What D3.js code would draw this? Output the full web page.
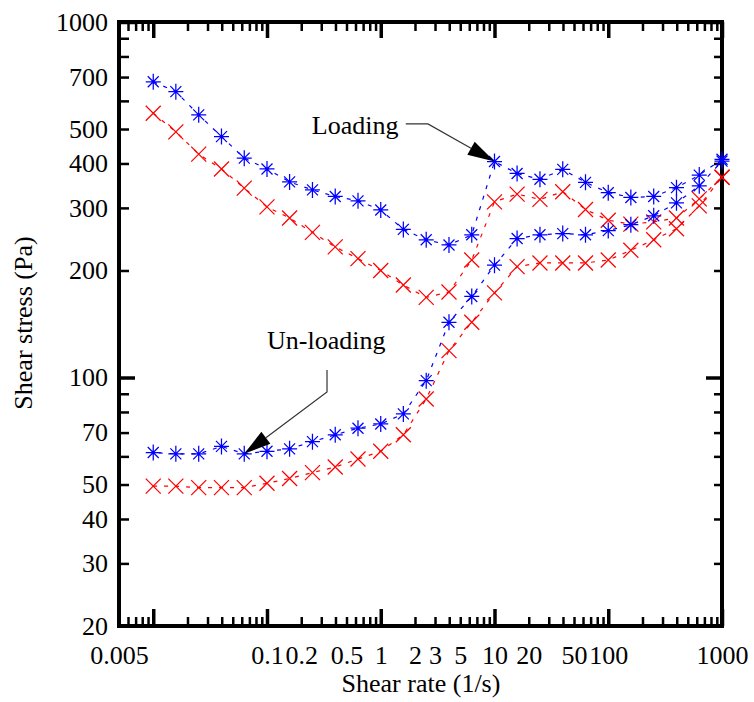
<!DOCTYPE html>
<html>
<head>
<meta charset="utf-8">
<script src="https://d3js.org/d3.v7.min.js"></script>
<style>
  body { margin: 0; background: #fff; }
  svg text { font-family: "Liberation Serif", "Times New Roman", serif; fill: #000; }
</style>
</head>
<body>
<script>
// shear rate points (1/s), 5 per decade
var rates = [0.01, 0.0158, 0.0251, 0.0398, 0.0631, 0.1, 0.158, 0.251, 0.398, 0.631,
             1, 1.58, 2.51, 3.98, 6.31, 10, 15.8, 25.1, 39.8, 63.1,
             100, 158, 251, 398, 631, 1000]

// shear stress (Pa), blue run
var blueLoad   = [679, 637, 548, 476, 414, 386, 355, 337, 323, 314, 296, 261, 244, 236, 252, 405, 375, 361, 385, 354, 331, 321, 323, 342, 371, 411]
var blueUnload = [61.5, 61, 61, 64, 61, 62, 63, 66, 69, 72, 74, 79, 98, 143, 169, 207, 246, 252, 254, 252, 259, 269, 285, 310, 346, 406]

// shear stress (Pa), red run
var redLoad   = [554, 491, 425, 386, 341, 302, 281, 256, 233, 216, 200, 182, 168, 174, 214, 312, 328, 317, 333, 297, 277, 270, 274, 281, 318, 366]
var redUnload = [49.5, 49.5, 49, 49, 49, 50.4, 52, 54, 56, 59, 62, 69, 87, 119, 143, 173, 205, 210, 210, 210, 214, 228, 244, 262, 304, 366]

// tick labels
var xLabels = [0.005, 0.1, 0.2, 0.5, 1, 2, 3, 5, 10, 20, 50, 100, 1000]
var xMajor = [0.01, 0.1, 1, 10, 100, 1000]
var yLabels = [20, 30, 40, 50, 70, 100, 200, 300, 400, 500, 700, 1000]
var yMajor = [100, 1000]

// annotations: label, text anchor, elbow points, arrow tip (data units)
var notes = [
  {label: "Loading", text: [0.248, 484], p: [[1.66, 517], [2.6, 517]], tip: [rates[15], blueLoad[15]]},
  {label: "Un-loading", text: [0.1, 120], p: [[0.337, 105], [0.337, 91]], tip: [rates[4], blueUnload[4]]}
]

var W = 754, H = 702
var svg = d3.select("body").append("svg")
  .attr("width", W)
  .attr("height", H)

var x = d3.scaleLog().domain([0.005, 1000]).range([119, 722])
var y = d3.scaleLog().domain([20, 1000]).range([626, 22])

var minorX = x.ticks().filter(function(d) { return xMajor.indexOf(d) < 0 })
var minorY = y.ticks().filter(function(d) { return yMajor.indexOf(d) < 0 && d !== 20 })

function tickAxis(axis, values, size) {
  return axis.tickValues(values).tickSize(size).tickFormat("")
}

function drawTicks(g) {
  g.select(".domain").remove()
  g.selectAll("line").attr("stroke", "#000")
}

// bottom
svg.append("g").attr("transform", "translate(0,626)")
  .call(tickAxis(d3.axisBottom(x), minorX, -9)).call(drawTicks)
  .selectAll("line").attr("stroke-width", 2.5)
svg.append("g").attr("transform", "translate(0,626)")
  .call(tickAxis(d3.axisBottom(x), xMajor, -17)).call(drawTicks)
  .selectAll("line").attr("stroke-width", 3.5)
svg.append("g").attr("transform", "translate(0,626)")
  .call(d3.axisBottom(x).tickValues(xLabels).tickSize(0).tickPadding(20)
    .tickFormat(function(d) { return String(d) }))
  .call(function(g) { g.select(".domain").remove() })
  .selectAll("text").attr("font-size", 26)

// top
svg.append("g").attr("transform", "translate(0,22)")
  .call(tickAxis(d3.axisTop(x), minorX, -9)).call(drawTicks)
  .selectAll("line").attr("stroke-width", 2.5)
svg.append("g").attr("transform", "translate(0,22)")
  .call(tickAxis(d3.axisTop(x), xMajor, -16)).call(drawTicks)
  .selectAll("line").attr("stroke-width", 3.5)

// left
svg.append("g").attr("transform", "translate(119,0)")
  .call(tickAxis(d3.axisLeft(y), minorY, -10)).call(drawTicks)
  .selectAll("line").attr("stroke-width", 2.5)
svg.append("g").attr("transform", "translate(119,0)")
  .call(tickAxis(d3.axisLeft(y), yMajor, -16)).call(drawTicks)
  .selectAll("line").attr("stroke-width", 3.5)
svg.append("g").attr("transform", "translate(119,0)")
  .call(d3.axisLeft(y).tickValues(yLabels).tickSize(0).tickPadding(11)
    .tickFormat(function(d) { return String(d) }))
  .call(function(g) { g.select(".domain").remove() })
  .selectAll("text").attr("font-size", 26)

// right
svg.append("g").attr("transform", "translate(722,0)")
  .call(tickAxis(d3.axisRight(y), minorY, -8)).call(drawTicks)
  .selectAll("line").attr("stroke-width", 2.5)
svg.append("g").attr("transform", "translate(722,0)")
  .call(tickAxis(d3.axisRight(y), yMajor, -16)).call(drawTicks)
  .selectAll("line").attr("stroke-width", 3.5)

// frame
svg.append("rect")
  .attr("x", x.range()[0]).attr("y", y.range()[1])
  .attr("width", x.range()[1] - x.range()[0])
  .attr("height", y.range()[0] - y.range()[1])
  .attr("fill", "none").attr("stroke", "#000").attr("stroke-width", 4)

// axis titles
svg.append("text")
  .attr("x", 421).attr("y", 692)
  .attr("text-anchor", "middle").attr("font-size", 26)
  .text("Shear rate (1/s)")

svg.append("text")
  .attr("transform", "translate(32,323) rotate(-90)")
  .attr("text-anchor", "middle").attr("font-size", 26)
  .text("Shear stress (Pa)")

// series: loading out to 1000 then unloading back
function runPoints(load, unload) {
  var pts = rates.map(function(r, i) { return [r, load[i]] })
  var back = rates.map(function(r, i) { return [r, unload[i]] }).reverse()
  return pts.concat(back)
}

var line = d3.line()
  .x(function(d) { return x(d[0]) })
  .y(function(d) { return y(d[1]) })

var series = [
  {color: "#ff0000", pts: runPoints(redLoad, redUnload), shape: "M-7.5,-7.5L7.5,7.5M-7.5,7.5L7.5,-7.5"},
  {color: "#0000ff", pts: runPoints(blueLoad, blueUnload), shape: "M-7.5,0H7.5M0,-8V8M-5.5,-5.5L5.5,5.5M-5.5,5.5L5.5,-5.5"}
]

series.forEach(function(s) {
  svg.append("path")
    .datum(s.pts)
    .attr("d", line)
    .attr("fill", "none")
    .attr("stroke", s.color)
    .attr("stroke-width", 1.2)
    .attr("stroke-dasharray", "4,7")

  svg.append("g").selectAll("path")
    .data(s.pts)
    .enter().append("path")
    .attr("transform", function(d) { return "translate(" + x(d[0]) + "," + y(d[1]) + ")" })
    .attr("d", s.shape)
    .attr("fill", "none")
    .attr("stroke", s.color)
    .attr("stroke-width", 1.25)
})

// annotations
notes.forEach(function(n) {
  svg.append("text")
    .attr("x", x(n.text[0])).attr("y", y(n.text[1]))
    .attr("font-size", 26)
    .text(n.label)

  var tx = x(n.tip[0]), ty = y(n.tip[1])
  var last = n.p[n.p.length - 1]
  var lx = x(last[0]), ly = y(last[1])
  var ang = Math.atan2(ty - ly, tx - lx)
  var len = 27, half = 7.5
  var bx = tx - len * Math.cos(ang), by = ty - len * Math.sin(ang)

  var pts = n.p.map(function(p) { return [x(p[0]), y(p[1])] })
  pts.push([bx, by])
  svg.append("path")
    .attr("d", d3.line()(pts))
    .attr("fill", "none")
    .attr("stroke", "#333")
    .attr("stroke-width", 1.2)

  svg.append("path")
    .attr("d", d3.line()([
      [tx, ty],
      [bx + half * Math.sin(ang), by - half * Math.cos(ang)],
      [bx - half * Math.sin(ang), by + half * Math.cos(ang)]
    ]) + "Z")
    .attr("fill", "#000")
})
</script>
</body>
</html>
